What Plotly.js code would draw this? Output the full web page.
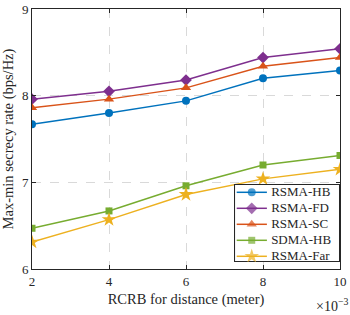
<!DOCTYPE html>
<html><head><meta charset="utf-8">
<script src="https://cdn.plot.ly/plotly-3.0.1.min.js"></script>
<style>html,body{margin:0;padding:0;background:#fff}</style>
</head><body><div id="chart" style="width:350px;height:315px"></div>
<script>
const xVals = [2, 4, 6, 8, 10];
const rsmaHB = [7.67, 7.80, 7.94, 8.20, 8.29];
const rsmaFD = [7.96, 8.05, 8.18, 8.44, 8.54];
const rsmaSC = [7.86, 7.96, 8.09, 8.34, 8.44];
const sdmaHB = [6.47, 6.67, 6.96, 7.20, 7.31];
const rsmaFar = [6.31, 6.57, 6.86, 7.04, 7.15];
const seriesNames = ['RSMA-HB', 'RSMA-FD', 'RSMA-SC', 'SDMA-HB', 'RSMA-Far'];
const xTickVals = [2, 4, 6, 8, 10];
const yTickVals = [6, 7, 8, 9];

const styles = [
  {color:'#0072BD', symbol:'circle', size:8},
  {color:'#7E2F8E', symbol:'diamond', size:9},
  {color:'#D95319', symbol:'triangle-up', size:9},
  {color:'#77AC30', symbol:'square', size:7},
  {color:'#EDB120', symbol:'star', size:11}
];
const FAM = '"Liberation Serif", "Times New Roman", serif';
const f = (s) => ({family: FAM, size: s, color: '#262626'});

const allY = [rsmaHB, rsmaFD, rsmaSC, sdmaHB, rsmaFar];
const traces = allY.map((y, i) => ({
  x: xVals, y: y, name: seriesNames[i], type: 'scatter', mode: 'lines+markers',
  showlegend: false, xaxis: 'x', yaxis: 'y',
  line: {color: styles[i].color, width: 1.5},
  marker: {color: styles[i].color, symbol: styles[i].symbol, size: styles[i].size, line:{width:0}}
}));

// Legend drawn in a small overlay subplot (x2/y2)
traces.push({
  x: [0, 1, 1, 0, 0], y: [0, 0, 4.875, 4.875, 0], xaxis: 'x2', yaxis: 'y2',
  type: 'scatter', mode: 'lines', fill: 'toself', fillcolor: '#ffffff',
  line: {color: '#262626', width: 2}, showlegend: false, hoverinfo: 'skip'
});
seriesNames.forEach((name, i) => {
  const row = i + 0.52;
  traces.push({
    x: [0.025, 0.167, 0.31], y: [row, row, row], xaxis: 'x2', yaxis: 'y2',
    type: 'scatter', mode: 'lines+markers', showlegend: false, hoverinfo: 'skip',
    line: {color: styles[i].color, width: 1.5},
    marker: {color: styles[i].color, symbol: styles[i].symbol,
      size: [0, styles[i].size, 0], line: {width: 0}}
  });
});
traces.push({
  x: seriesNames.map(() => 0.35), y: seriesNames.map((n, i) => i + 0.52),
  text: seriesNames, xaxis: 'x2', yaxis: 'y2', type: 'scatter', mode: 'text',
  textposition: 'middle right', textfont: f(13), showlegend: false, hoverinfo: 'skip',
  cliponaxis: false
});

const hiddenAxis = {showgrid: false, zeroline: false, showticklabels: false,
  showline: false, ticks: '', fixedrange: true};

const layout = {
  width: 350, height: 315,
  margin: {l: 32, r: 10, t: 9, b: 46},
  paper_bgcolor: '#fff', plot_bgcolor: 'rgba(0,0,0,0)',
  font: f(13),
  showlegend: false,
  xaxis: {range: [2, 10], tickvals: xTickVals, ticks: 'inside', ticklen: 4, tickcolor:'#262626',
    showgrid: true, gridcolor: '#d9d9d9', griddash: 'dash', gridwidth: 1,
    showline: true, linecolor: '#262626', linewidth: 1, mirror: 'ticks', zeroline: false,
    tickfont: f(13), anchor: 'y', domain: [0, 1],
    title: {text: 'RCRB for distance (meter)', font: f(14.5), standoff: 6}},
  yaxis: {range: [6, 9], tickvals: yTickVals, ticks: 'inside', ticklen: 4, tickcolor:'#262626',
    showgrid: true, gridcolor: '#d9d9d9', griddash: 'dash', gridwidth: 1,
    showline: true, linecolor: '#262626', linewidth: 1, mirror: 'ticks', zeroline: false,
    tickfont: f(13), anchor: 'x', domain: [0, 1],
    title: {text: 'Max-min secrecy rate (bps/Hz)', font: f(14.5), standoff: 6}},
  xaxis2: Object.assign({range: [0, 1], domain: [0.656, 1], anchor: 'y2'}, hiddenAxis),
  yaxis2: Object.assign({range: [4.875, 0], domain: [0.027, 0.327], anchor: 'x2'}, hiddenAxis),
  annotations: [{xref: 'paper', yref: 'paper', x: 1.03, y: -0.1, xanchor: 'right', yanchor: 'top',
    text: '×10<sup>−3</sup>', showarrow: false, font: f(14), borderpad: 0}]
};
Plotly.newPlot('chart', traces, layout, {displayModeBar: false, staticPlot: true});
</script></body></html>
